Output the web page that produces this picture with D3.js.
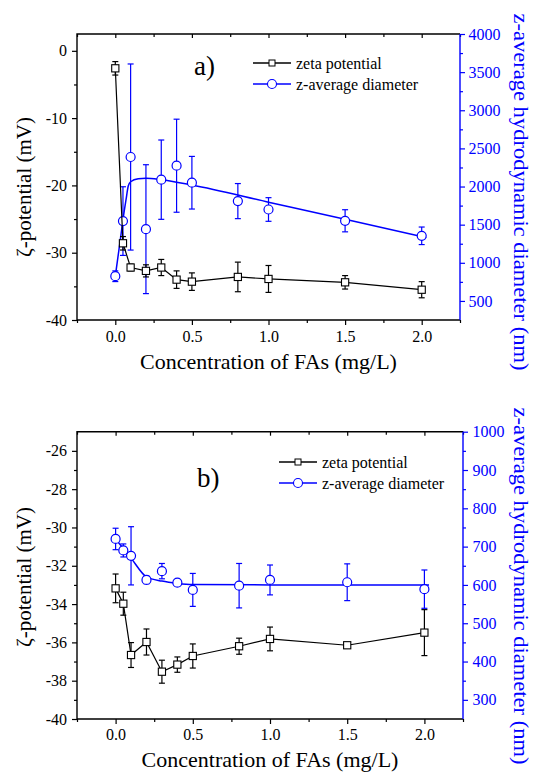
<!DOCTYPE html>
<html>
<head>
<meta charset="utf-8">
<script src="https://cdn.jsdelivr.net/npm/d3@7"></script>
<style>
  body { margin: 0; background: #fff; }
</style>
</head>
<body>
<script>
// concentrations of FAs (mg/L), shared by both panels
var conc = [0, 0.05, 0.1, 0.2, 0.3, 0.4, 0.5, 0.8, 1.0, 1.5, 2.0];
var xTicks = [0, 0.5, 1.0, 1.5, 2.0];
var xMinor = [-0.25, 0.25, 0.75, 1.25, 1.75, 2.25];

// panel a)
var zetaA = [-2.6, -28.6, -32.2, -32.7, -32.2, -34.0, -34.3, -33.6, -33.9, -34.4, -35.5];
var zetaErrA = [1.0, 1.0, 0.5, 0.9, 1.2, 1.3, 1.3, 2.2, 2.0, 1.0, 1.2];
var diamA = [824, 1547, 2387, 1441, 2090, 2273, 2050, 1809, 1699, 1551, 1354];
var diamErrA = [70, 450, 1220, 845, 520, 610, 345, 230, 155, 145, 115];
var fitXA = [0, 0.03, 0.05, 0.07, 0.085, 0.1, 0.15, 0.2, 0.3, 0.5, 1.0, 1.5, 2.03];
var fitYA = [824, 1262, 1564, 1827, 2010, 2063, 2102, 2109, 2090, 2020, 1795, 1570, 1330];
var zetaTicksA = [0, -10, -20, -30, -40];
var zetaMinorA = [-5, -15, -25, -35];
var diamTicksA = [500, 1000, 1500, 2000, 2500, 3000, 3500, 4000];
var diamMinorA = [750, 1250, 1750, 2250, 2750, 3250, 3750];

// panel b)
var zetaB = [-33.18, -33.98, -36.66, -35.98, -37.53, -37.16, -36.71, -36.2, -35.82, -36.15, -35.49];
var zetaErrB = [0.75, 0.6, 0.65, 0.68, 0.6, 0.4, 0.63, 0.42, 0.62, 0.1, 1.2];
var diamB = [720, 690, 676, 613, 636, 606, 587, 598, 613, 607, 589];
var diamErrB = [28, 17, 76, 10, 20, 8, 43, 58, 39, 48, 50];
var fitXB = [0, 0.1, 0.2, 0.3, 0.4, 0.5, 1.0, 2.03];
var fitYB = [720, 670, 621, 610, 604, 601, 600, 600];
var zetaTicksB = [-26, -28, -30, -32, -34, -36, -38, -40];
var zetaMinorB = [-27, -29, -31, -33, -35, -37, -39];
var diamTicksB = [300, 400, 500, 600, 700, 800, 900, 1000];
var diamMinorB = [350, 450, 550, 650, 750, 850, 950];

var BLUE = "#0000ff";
var FONT = "Liberation Serif";

var svg = d3.select("body").append("svg")
  .attr("width", 536).attr("height", 772)
  .attr("font-family", FONT);

function drawPanel(p) {
  var x = d3.scaleLinear().domain([-0.25, 2.25]).range([p.left, p.right]);
  var yL = d3.scaleLinear().domain(p.zetaDomain).range([p.bottom, p.top]);
  var yR = d3.scaleLinear().domain(p.diamDomain).range([p.bottom, p.top]);
  var g = svg.append("g");

  function styleAxis(sel, color) {
    // d3 puts sans-serif on the axis group, put the serif back
    sel.attr("font-family", FONT).attr("font-size", 16);
    sel.select(".domain").remove();
    sel.selectAll("line").attr("stroke", color).attr("stroke-width", 1.2);
    sel.selectAll("text").attr("fill", color);
  }

  // bottom axis, major + minor ticks
  g.append("g").attr("transform", "translate(0," + p.bottom + ")")
    .call(d3.axisBottom(x).tickValues(xTicks).tickSize(5).tickPadding(p.xPad).tickFormat(d3.format(".1f")))
    .call(styleAxis, "#000");
  g.append("g").attr("transform", "translate(0," + p.bottom + ")")
    .call(d3.axisBottom(x).tickValues(xMinor).tickSize(3).tickFormat(""))
    .call(styleAxis, "#000");
  // top axis, ticks pointing in
  g.append("g").attr("transform", "translate(0," + p.top + ")")
    .call(d3.axisTop(x).tickValues(xTicks).tickSize(-4).tickFormat(""))
    .call(styleAxis, "#000");
  g.append("g").attr("transform", "translate(0," + p.top + ")")
    .call(d3.axisTop(x).tickValues(xMinor).tickSize(-3).tickFormat(""))
    .call(styleAxis, "#000");

  // left axis (zeta potential)
  g.append("g").attr("transform", "translate(" + p.left + ",0)")
    .call(d3.axisLeft(yL).tickValues(p.zetaTicks).tickSize(5).tickPadding(5).tickFormat(function (d) { return String(d); }))
    .call(styleAxis, "#000");
  g.append("g").attr("transform", "translate(" + p.left + ",0)")
    .call(d3.axisLeft(yL).tickValues(p.zetaMinor).tickSize(3).tickFormat(""))
    .call(styleAxis, "#000");

  // right axis (diameter), blue
  g.append("g").attr("transform", "translate(" + p.right + ",0)")
    .call(d3.axisRight(yR).tickValues(p.diamTicks).tickSize(5).tickPadding(p.rPad).tickFormat(function (d) { return String(d); }))
    .call(styleAxis, BLUE);
  g.append("g").attr("transform", "translate(" + p.right + ",0)")
    .call(d3.axisRight(yR).tickValues(p.diamMinor).tickSize(3).tickFormat(""))
    .call(styleAxis, BLUE);

  // frame
  g.append("path")
    .attr("d", "M" + p.right + "," + p.top + "H" + p.left + "V" + p.bottom + "H" + p.right)
    .attr("fill", "none").attr("stroke", "#000").attr("stroke-width", 1.4);
  g.append("line")
    .attr("x1", p.right).attr("x2", p.right).attr("y1", p.top).attr("y2", p.bottom)
    .attr("stroke", BLUE).attr("stroke-width", 1.4);

  // ---- diameter series (blue) ----
  var fit = pairUp(p.fitX, p.fitY);
  g.append("path")
    .datum(fit)
    .attr("fill", "none").attr("stroke", BLUE).attr("stroke-width", 1.5)
    .attr("d", d3.line().x(function (d) { return x(d[0]); }).y(function (d) { return yR(d[1]); }).curve(d3.curveMonotoneX));

  var blue = conc.map(function (c, i) { return { c: c, v: p.diam[i], e: p.diamErr[i] }; });
  drawErr(g, blue, x, yR, BLUE);
  g.selectAll(".circ").data(blue).join("circle")
    .attr("class", "circ")
    .attr("cx", function (d) { return x(d.c); })
    .attr("cy", function (d) { return yR(d.v); })
    .attr("r", 4.5)
    .attr("fill", "#fff").attr("stroke", BLUE).attr("stroke-width", 1.2);

  // ---- zeta series (black) ----
  var black = conc.map(function (c, i) { return { c: c, v: p.zeta[i], e: p.zetaErr[i] }; });
  g.append("path")
    .datum(black)
    .attr("fill", "none").attr("stroke", "#000").attr("stroke-width", 1.2)
    .attr("d", d3.line().x(function (d) { return x(d.c); }).y(function (d) { return yL(d.v); }));
  drawErr(g, black, x, yL, "#000");
  g.selectAll(".sq").data(black).join("rect")
    .attr("class", "sq")
    .attr("x", function (d) { return x(d.c) - 3.6; })
    .attr("y", function (d) { return yL(d.v) - 3.6; })
    .attr("width", 7.2).attr("height", 7.2)
    .attr("fill", "#fff").attr("stroke", "#000").attr("stroke-width", 1.1);

  // panel letter
  g.append("text").attr("x", p.letterX).attr("y", p.letterY)
    .attr("font-size", 27).text(p.letter);

  // legend
  var lg = g.append("g");
  [{ label: "zeta potential", color: "#000", shape: "square" },
   { label: "z-average diameter", color: BLUE, shape: "circle" }].forEach(function (item, i) {
    var yy = p.legY + i * 21;
    lg.append("line").attr("x1", p.legX).attr("x2", p.legX + 38).attr("y1", yy).attr("y2", yy)
      .attr("stroke", item.color).attr("stroke-width", 1.3);
    if (item.shape === "square") {
      lg.append("rect").attr("x", p.legX + 16).attr("y", yy - 3).attr("width", 6).attr("height", 6)
        .attr("fill", "#fff").attr("stroke", item.color).attr("stroke-width", 1);
    } else {
      lg.append("circle").attr("cx", p.legX + 19).attr("cy", yy).attr("r", 4.5)
        .attr("fill", "#fff").attr("stroke", item.color).attr("stroke-width", 1.1);
    }
    lg.append("text").attr("x", p.legX + 43).attr("y", yy + 5.5)
      .attr("font-size", 16).attr("fill", "#000").text(item.label);
  });

  // axis titles
  g.append("text")
    .attr("transform", "translate(" + 31 + "," + p.leftTitleY + ") rotate(-90)")
    .attr("text-anchor", "middle").attr("font-size", 21)
    .text("\u03B6-potential (mV)");
  g.append("text")
    .attr("transform", "translate(" + 514 + "," + p.rightTitleY + ") rotate(90)")
    .attr("text-anchor", "middle").attr("font-size", 21).attr("fill", BLUE)
    .attr("textLength", 357).attr("lengthAdjust", "spacingAndGlyphs")
    .text("z-average  hydrodynamic diameter (nm)");
  g.append("text")
    .attr("x", (p.left + p.right) / 2).attr("y", p.xTitleY)
    .attr("text-anchor", "middle").attr("font-size", 22)
    .text("Concentration of FAs (mg/L)");
}

// pair up the fit curve arrays
function pairUp(xs, ys) {
  return xs.map(function (v, i) { return [v, ys[i]]; });
}

// vertical error bars with caps
function drawErr(g, data, x, y, color) {
  var eg = g.append("g").attr("stroke", color).attr("stroke-width", 1.2);
  data.forEach(function (d) {
    var cx = x(d.c), y1 = y(d.v + d.e), y2 = y(d.v - d.e);
    eg.append("line").attr("x1", cx).attr("x2", cx).attr("y1", y1).attr("y2", y2);
    eg.append("line").attr("x1", cx - 3).attr("x2", cx + 3).attr("y1", y1).attr("y2", y1);
    eg.append("line").attr("x1", cx - 3).attr("x2", cx + 3).attr("y1", y2).attr("y2", y2);
  });
}

drawPanel({
  left: 77, right: 460, top: 34, bottom: 320,
  zetaDomain: [-40, 2.5], diamDomain: [250, 4000],
  zeta: zetaA, zetaErr: zetaErrA, diam: diamA, diamErr: diamErrA,
  fitX: fitXA, fitY: fitYA,
  zetaTicks: zetaTicksA, zetaMinor: zetaMinorA, diamTicks: diamTicksA, diamMinor: diamMinorA,
  xPad: 5.5, rPad: 3.5,
  letter: "a)", letterX: 194, letterY: 75,
  legX: 253, legY: 63,
  leftTitleY: 187, rightTitleY: 192, xTitleY: 369
});

drawPanel({
  left: 77, right: 463, top: 431.7, bottom: 719,
  zetaDomain: [-40, -25], diamDomain: [250, 1000],
  zeta: zetaB, zetaErr: zetaErrB, diam: diamB, diamErr: diamErrB,
  fitX: fitXB, fitY: fitYB,
  zetaTicks: zetaTicksB, zetaMinor: zetaMinorB, diamTicks: diamTicksB, diamMinor: diamMinorB,
  xPad: 4.5, rPad: 4.5,
  letter: "b)", letterX: 197, letterY: 487,
  legX: 279, legY: 462,
  leftTitleY: 577, rightTitleY: 586, xTitleY: 767
});
</script>
</body>
</html>
